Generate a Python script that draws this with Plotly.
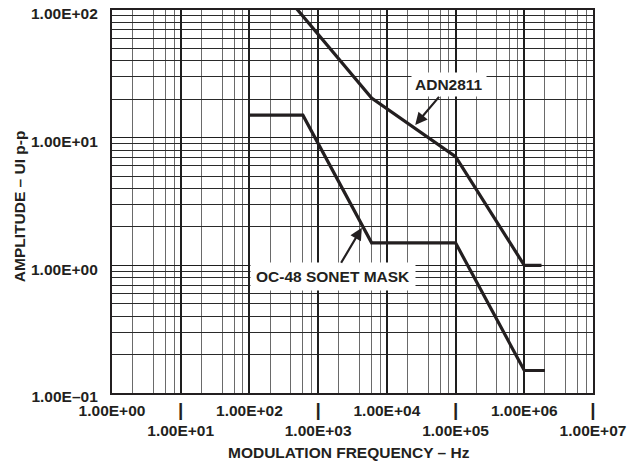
import plotly.graph_objects as go

# ---- data ----
adn_freq = [400, 6000, 100000, 1000000, 1780000]
adn_amp = [116, 20.4, 7.1, 1.0, 1.0]

sonet_freq = [100, 600, 6000, 100000, 1000000, 2000000]
sonet_amp = [15, 15, 1.5, 1.5, 0.15, 0.15]

x_tick_vals = [1, 10, 100, 1000, 10000, 100000, 1000000, 10000000]
x_tick_labels = ["1.00E+00", "1.00E+01", "1.00E+02", "1.00E+03",
                 "1.00E+04", "1.00E+05", "1.00E+06", "1.00E+07"]
y_tick_vals = [0.1, 1, 10, 100]
y_tick_labels = ["1.00E\u201301", "1.00E+00", "1.00E+01", "1.00E+02"]

INK = "#231f20"
FONT = "Liberation Sans, Arial, Helvetica, sans-serif"
FS = 15.5

# staggered x labels: odd decades go on a second line under a "|" mark
x_text = [lab if i % 2 == 0 else "<span style='font-size:19px'>|</span><br>" + lab
          for i, lab in enumerate(x_tick_labels)]

x_minor = [m * d for d in x_tick_vals[:-1] for m in (2, 4, 6, 8)]
y_minor = [m * d for d in y_tick_vals[:-1] for m in (2, 3, 4, 5, 6, 7, 8, 9)]

fig = go.Figure()
fig.add_trace(go.Scatter(x=sonet_freq, y=sonet_amp, mode="lines",
                         line=dict(color=INK, width=3.2), showlegend=False))
fig.add_trace(go.Scatter(x=adn_freq, y=adn_amp, mode="lines",
                         line=dict(color=INK, width=3.2), showlegend=False))

fig.update_layout(
    width=634, height=466,
    margin=dict(l=112, r=41, t=10, b=73),
    paper_bgcolor="white", plot_bgcolor="white",
    font=dict(family=FONT, size=FS, color=INK, weight=700),
    showlegend=False,
)

fig.update_xaxes(
    type="log", range=[0, 7], automargin=False,
    tickmode="array", tickvals=x_tick_vals, ticktext=x_text, tickangle=0,
    ticks="", ticklabelstandoff=2, ticklabeloverflow="allow",
    showgrid=True, gridcolor="#1e1e1e", gridwidth=2,
    showline=True, linecolor=INK, linewidth=2.2, mirror=True,
    zeroline=False,
    minor=dict(tickmode="array", tickvals=x_minor, showgrid=True,
               gridcolor="#6a6a6a", gridwidth=1.3, ticks=""),
    tickfont=dict(family=FONT, size=FS, color=INK, weight=700),
)
fig.update_yaxes(
    type="log", range=[-1, 2], automargin=False,
    tickmode="array", tickvals=y_tick_vals, ticktext=y_tick_labels,
    ticks="", ticklabelstandoff=9, ticklabelshift=4, ticklabeloverflow="allow",
    showgrid=True, gridcolor="#1e1e1e", gridwidth=1.4,
    showline=True, linecolor=INK, linewidth=2.2, mirror=True,
    zeroline=False,
    minor=dict(tickmode="array", tickvals=y_minor, showgrid=True,
               gridcolor="#2a2a2a", gridwidth=1.2, ticks=""),
    tickfont=dict(family=FONT, size=FS, color=INK, weight=700),
)

# axis titles
fig.add_annotation(text="MODULATION FREQUENCY \u2013 Hz", xref="paper", yref="paper",
                   x=0.4927, y=-0.1565, xanchor="center", yanchor="middle",
                   showarrow=False, font=dict(family=FONT, size=FS, color=INK, weight=700))
fig.add_annotation(text="AMPLITUDE \u2013 UI p-p", xref="paper", yref="paper",
                   x=-0.1921, y=0.4868, xanchor="center", yanchor="middle",
                   textangle=-90, showarrow=False,
                   font=dict(family=FONT, size=FS, color=INK, weight=700))

# callout labels with arrows (annotation coords on log axes are log10 values)
fig.add_annotation(text="ADN2811", x=4.413, y=1.10, xref="x", yref="y",
                   ax=34, ay=-40, showarrow=True, arrowhead=2, arrowsize=1.1,
                   arrowwidth=2.2, arrowcolor=INK, bgcolor="white", borderpad=3,
                   font=dict(family=FONT, size=FS, color=INK, weight=700))
fig.add_annotation(text="OC-48 SONET MASK", x=3.636, y=0.294, xref="x", yref="y",
                   ax=-29, ay=49, showarrow=True, arrowhead=2, arrowsize=1.1,
                   arrowwidth=2.2, arrowcolor=INK, bgcolor="white", borderpad=5,
                   font=dict(family=FONT, size=FS, color=INK, weight=700))

# remove the default page margin so the figure sits at the window's top-left corner
fig.write_html("out.html", config={"displayModeBar": False},
               post_script="document.body.style.margin='0';")
